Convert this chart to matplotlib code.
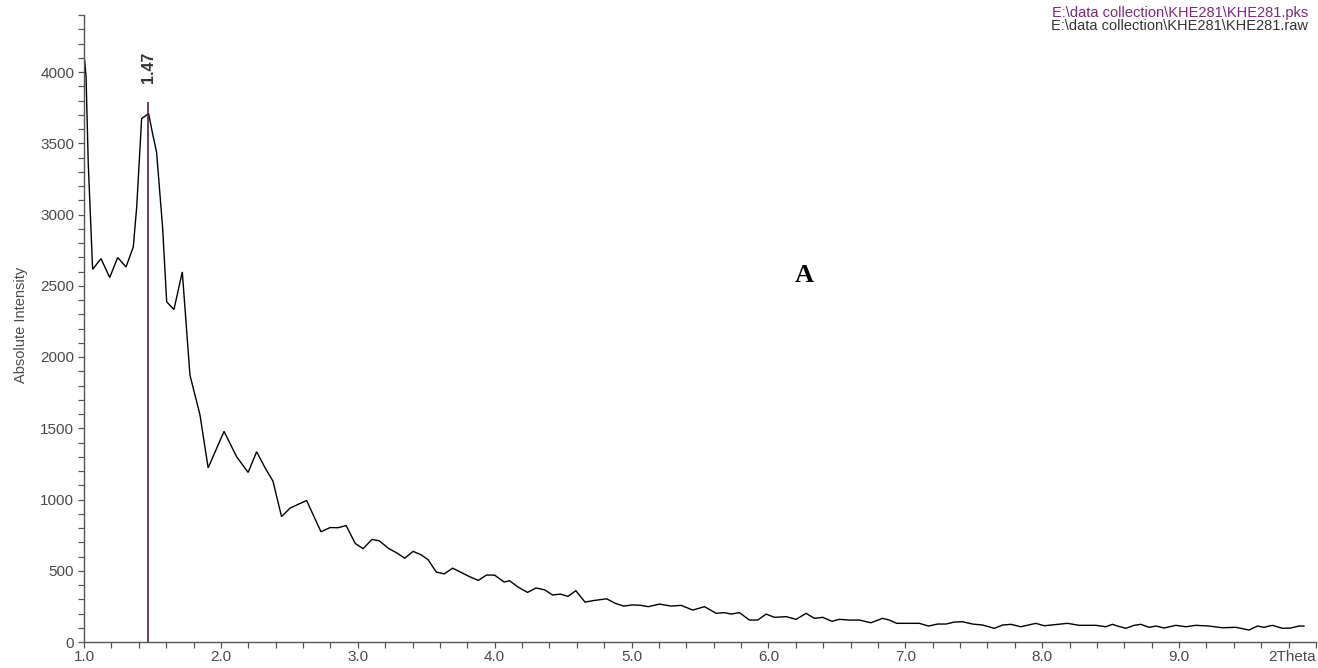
import matplotlib
matplotlib.use("Agg")
import matplotlib.pyplot as plt
from matplotlib.ticker import MultipleLocator, FixedLocator

# XRD scan, low-angle region (2Theta in degrees, counts)
two_theta = [
    1.005, 1.015, 1.031, 1.063, 1.124, 1.188, 1.246, 1.307, 1.360, 1.385,
    1.421, 1.472, 1.501, 1.530, 1.574, 1.604, 1.657, 1.718, 1.774, 1.847,
    1.907, 2.023, 2.115, 2.199, 2.261, 2.327, 2.380, 2.443, 2.506, 2.626,
    2.731, 2.798, 2.856, 2.915, 2.981, 3.039, 3.104, 3.157, 3.227, 3.282,
    3.343, 3.404, 3.461, 3.513, 3.574, 3.631, 3.693, 3.745, 3.818, 3.880,
    3.941, 4.000, 4.069, 4.109, 4.170, 4.240, 4.302, 4.365, 4.423, 4.480,
    4.535, 4.593, 4.660, 4.730, 4.818, 4.882, 4.943, 5.004, 5.064, 5.122,
    5.204, 5.289, 5.363, 5.447, 5.533, 5.618, 5.679, 5.728, 5.788, 5.861,
    5.922, 5.983, 6.044, 6.129, 6.202, 6.275, 6.336, 6.397, 6.464, 6.518,
    6.591, 6.664, 6.749, 6.834, 6.883, 6.937, 7.005, 7.102, 7.170, 7.236,
    7.297, 7.358, 7.418, 7.491, 7.564, 7.650, 7.710, 7.771, 7.844, 7.953,
    8.015, 8.112, 8.185, 8.270, 8.392, 8.465, 8.513, 8.550, 8.611, 8.672,
    8.720, 8.781, 8.830, 8.891, 8.976, 9.049, 9.122, 9.219, 9.316, 9.414,
    9.511, 9.572, 9.620, 9.681, 9.754, 9.815, 9.876, 9.912,
]
intensity = [
    4080, 3965, 3360, 2615, 2690, 2558, 2698, 2632, 2772, 3053,
    3673, 3708, 3567, 3438, 2912, 2387, 2333, 2597, 1873, 1595,
    1222, 1478, 1300, 1190, 1335, 1215, 1130, 880, 940, 993,
    774, 803, 802, 817, 692, 655, 720, 710, 655, 627,
    588, 636, 613, 578, 491, 478, 518, 493, 458, 432,
    470, 469, 421, 430, 386, 348, 379, 366, 330, 336,
    320, 360, 280, 292, 303, 271, 252, 260, 258, 248,
    266, 252, 257, 224, 248, 201, 206, 196, 206, 154,
    154, 196, 173, 178, 159, 201, 166, 173, 145, 159,
    154, 154, 135, 166, 154, 131, 131, 131, 112, 126,
    126, 140, 142, 126, 119, 96, 119, 124, 107, 131,
    114, 124, 131, 117, 117, 107, 124, 112, 96, 117,
    124, 103, 112, 98, 117, 107, 117, 112, 100, 103,
    84, 112, 103, 117, 96, 98, 112, 112,
]

# Peak marker
peak_position = 1.47
peak_height = 3790
peak_label = "1.47"

# Axis ticks
x_major = [1, 2, 3, 4, 5, 6, 7, 8, 9, 10]
x_tick_labels = ["1.0", "2.0", "3.0", "4.0", "5.0", "6.0", "7.0", "8.0", "9.0", "2Theta"]
y_major = [0, 500, 1000, 1500, 2000, 2500, 3000, 3500, 4000]

file_lines = [
    ("E:\\data collection\\KHE281\\KHE281.pks", "#7a2a78"),
    ("E:\\data collection\\KHE281\\KHE281.raw", "#333333"),
]

plt.rcParams["font.family"] = ["Liberation Sans", "DejaVu Sans"]
text_grey = "#4a4a4a"

W, H, DPI = 1318, 668, 100
fig = plt.figure(figsize=(W / DPI, H / DPI), dpi=DPI, facecolor="white")
ax = fig.add_axes([84 / W, 26 / H, (1316 - 84) / W, (642 - 15) / H])

ax.plot(two_theta, intensity, color="black", lw=1.0, solid_joinstyle="miter")
ax.vlines(peak_position, 0, peak_height, color="#4e1f45", lw=1.2)
ax.text(peak_position, peak_height + 130, peak_label, rotation=90,
        ha="center", va="bottom", fontsize=11.5, fontweight="bold", color="#333333")

ax.set_xlim(1.0, 10.0)
ax.set_ylim(0, 4400)

for side in ("top", "right"):
    ax.spines[side].set_visible(False)
for side in ("left", "bottom"):
    ax.spines[side].set_color("#555555")
    ax.spines[side].set_linewidth(1.0)

ax.xaxis.set_major_locator(FixedLocator(x_major))
ax.set_xticklabels(x_tick_labels)
ax.xaxis.set_minor_locator(MultipleLocator(0.2))
ax.yaxis.set_major_locator(FixedLocator(y_major))
ax.yaxis.set_minor_locator(MultipleLocator(100))

ax.tick_params(axis="both", which="both", direction="out", length=4,
               width=0.9, color="#555555", labelcolor=text_grey, labelsize=11)
ax.tick_params(axis="x", pad=2)
ax.tick_params(axis="y", pad=3)
ax.get_xticklabels()[-1].set_horizontalalignment("right")

ax.set_ylabel("Absolute Intensity", fontsize=10.5, color=text_grey)
ax.yaxis.set_label_coords(-56 / (1316 - 84), 0.505)

for i, (txt, col) in enumerate(file_lines):
    fig.text(1308 / W, 1 - (13 + 13 * i) / H, txt, ha="right", va="center",
             fontsize=10.5, color=col)

ax.text(0.585, 0.585, "A", transform=ax.transAxes, ha="center", va="center",
        fontsize=19, fontweight="bold", family="Liberation Serif", color="black")

fig.savefig("out.png", dpi=DPI, facecolor="white")
